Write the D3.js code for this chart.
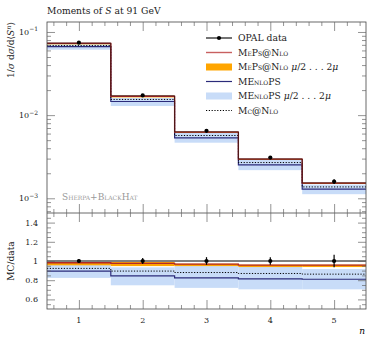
<!DOCTYPE html>
<html>
<head>
<meta charset="utf-8">
<script src="https://cdn.jsdelivr.net/npm/d3@7"></script>
<style>
  body { margin: 0; background: #fff; }
  svg { font-family: "DejaVu Serif", "Liberation Serif", serif; }
  .sc { font-variant: small-caps; }
</style>
</head>
<body>
<svg width="378" height="341"></svg>
<script>
// moments n = 1..5
const bins = [1, 2, 3, 4, 5]
const dataVal = [0.0743, 0.01725, 0.00647, 0.00309, 0.00159]
const dataErr = [0.0015, 0.0005, 0.00025, 0.00012, 0.0001]

// top panel MC predictions
const mepsVal = [0.0730, 0.01682, 0.00626, 0.00296, 0.00152]
const mepsLo = [0.0710, 0.01634, 0.00613, 0.00290, 0.00149]
const mepsHi = [0.0736, 0.01708, 0.00629, 0.00297, 0.00153]
const menlopsVal = [0.0665, 0.01458, 0.00533, 0.00252, 0.00129]
const menlopsLo = [0.0612, 0.01289, 0.00466, 0.00218, 0.00112]
const menlopsHi = [0.0712, 0.01611, 0.00613, 0.00290, 0.00146]
const mcnloVal = [0.0686, 0.01544, 0.00569, 0.00269, 0.00137]

// ratio panel MC/data
const rData = [1, 1, 1, 1, 1]
const rDataErr = [0.02, 0.03, 0.04, 0.04, 0.065]
const rMeps = [0.982, 0.975, 0.968, 0.958, 0.958]
const rMepsLo = [0.955, 0.947, 0.947, 0.937, 0.937]
const rMepsHi = [0.99, 0.99, 0.972, 0.962, 0.962]
const rMenlops = [0.895, 0.845, 0.824, 0.814, 0.81]
const rMenlopsLo = [0.824, 0.747, 0.72, 0.705, 0.705]
const rMenlopsHi = [0.958, 0.934, 0.947, 0.94, 0.916]
const rMcnlo = [0.923, 0.895, 0.88, 0.87, 0.863]

const yTopMajor = [1e-1, 1e-2, 1e-3]
const yTopLabels = ['−1', '−2', '−3']
const yRatMajor = [0.6, 0.8, 1, 1.2, 1.4]
const yRatLabels = ['0.6', '0.8', '1', '1.2', '1.4']

const svg = d3.select('svg')
const L = 47, R = 366, T = 22, M = 213, B = 309

const x = d3.scaleLinear().domain([0.5, 5.5]).range([L, R])
const yTop = d3.scaleLog().domain([Math.pow(10, -3.177), Math.pow(10, -0.88)]).range([M, T])
const yRat = d3.scaleLinear().domain([0.5, 1.5]).range([B, M])

const orange = '#ffa500', red = '#b02828', blue = '#2b2b7a', lightBlue = '#c8dcf8'

function bands(g, y, lo, hi, col) {
  g.selectAll(null).data(bins).enter().append('rect')
    .attr('x', d => x(d - 0.5))
    .attr('width', x(1.5) - x(0.5))
    .attr('y', (d, i) => y(hi[i]))
    .attr('height', (d, i) => y(lo[i]) - y(hi[i]))
    .attr('fill', col)
}

function steps(g, y, vals, col, w, dash) {
  const pts = []
  bins.forEach((d, i) => { pts.push([d - 0.5, vals[i]]); pts.push([d + 0.5, vals[i]]) })
  g.append('path')
    .attr('d', d3.line().x(p => x(p[0])).y(p => y(p[1]))(pts))
    .attr('fill', 'none')
    .attr('stroke', col)
    .attr('stroke-width', w)
    .attr('stroke-dasharray', dash || null)
}

function points(g, y, vals, errs) {
  g.selectAll(null).data(bins).enter().append('line')
    .attr('x1', d => x(d)).attr('x2', d => x(d))
    .attr('y1', (d, i) => y(vals[i] - errs[i]))
    .attr('y2', (d, i) => y(vals[i] + errs[i]))
    .attr('stroke', '#000').attr('stroke-width', 1.2)
  g.selectAll(null).data(bins).enter().append('circle')
    .attr('cx', d => x(d)).attr('cy', (d, i) => y(vals[i]))
    .attr('r', 2.1).attr('fill', '#000')
}

// top panel
const topG = svg.append('g')
bands(topG, yTop, menlopsLo, menlopsHi, lightBlue)
bands(topG, yTop, mepsLo, mepsHi, orange)
steps(topG, yTop, menlopsVal, blue, 1.2)
steps(topG, yTop, mcnloVal, '#000', 1, '1.2,1.6')
steps(topG, yTop, mepsVal, red, 1.3)
steps(topG, yTop, mepsHi, '#3a1212', 0.9)
points(topG, yTop, dataVal, dataErr)

// ratio panel
const ratG = svg.append('g')
bands(ratG, yRat, rMenlopsLo, rMenlopsHi, lightBlue)
bands(ratG, yRat, rMepsLo, rMepsHi, orange)
steps(ratG, yRat, rMenlops, blue, 1.2)
steps(ratG, yRat, rMcnlo, '#000', 1, '1.2,1.6')
steps(ratG, yRat, rMeps, red, 1.3)
steps(ratG, yRat, rData, '#000', 1.1)
points(ratG, yRat, rData, rDataErr)

// frames
const tickCol = '#666'
svg.append('rect').attr('x', L).attr('y', T).attr('width', R - L).attr('height', B - T)
  .attr('fill', 'none').attr('stroke', '#444').attr('stroke-width', 0.8)
svg.append('line').attr('x1', L).attr('x2', R).attr('y1', M).attr('y2', M)
  .attr('stroke', '#444').attr('stroke-width', 0.8)

function styleAxis(g) {
  g.select('.domain').remove()
  g.selectAll('line').attr('stroke', tickCol).attr('stroke-width', 0.7)
}

// x ticks: top frame points down, bottom frame points up, separator both ways
const xMinor = d3.range(6, 55, 2).map(v => v / 10).filter(v => Math.abs(v - Math.round(v)) > 1e-6)
const xAxes = [[T, d3.axisTop, -1], [M, d3.axisTop, 1], [M, d3.axisBottom, 1], [B, d3.axisBottom, -1]]
xAxes.forEach(([yy, ax, sign]) => {
  svg.append('g').attr('transform', `translate(0,${yy})`)
    .call(ax(x).tickValues(bins).tickSize(sign * 9).tickFormat('')).call(styleAxis)
  svg.append('g').attr('transform', `translate(0,${yy})`)
    .call(ax(x).tickValues(xMinor).tickSize(sign * 4).tickFormat('')).call(styleAxis)
})

// y ticks top (log)
const yTopMinor = []
;[-4, -3, -2, -1].forEach(e => { for (let k = 2; k <= 9; k++) yTopMinor.push(k * Math.pow(10, e)) })
const yTopMinorIn = yTopMinor.filter(v => v > yTop.domain()[0] && v < yTop.domain()[1])
;[[L, d3.axisLeft], [R, d3.axisRight]].forEach(([xx, ax]) => {
  svg.append('g').attr('transform', `translate(${xx},0)`)
    .call(ax(yTop).tickValues(yTopMajor).tickSize(-8).tickFormat('')).call(styleAxis)
  svg.append('g').attr('transform', `translate(${xx},0)`)
    .call(ax(yTop).tickValues(yTopMinorIn).tickSize(-4).tickFormat('')).call(styleAxis)
})

// y ticks ratio
const yRatMinor = d3.range(55, 150, 5).map(v => v / 100).filter(v => !yRatMajor.some(m => Math.abs(m - v) < 1e-6))
;[[L, d3.axisLeft], [R, d3.axisRight]].forEach(([xx, ax]) => {
  svg.append('g').attr('transform', `translate(${xx},0)`)
    .call(ax(yRat).tickValues(yRatMajor).tickSize(-8).tickFormat('')).call(styleAxis)
  svg.append('g').attr('transform', `translate(${xx},0)`)
    .call(ax(yRat).tickValues(yRatMinor).tickSize(-4).tickFormat('')).call(styleAxis)
})

// tick labels
yTopMajor.forEach((v, i) => {
  const t = svg.append('text').attr('x', 38).attr('y', yTop(v) + 3).attr('text-anchor', 'end')
    .attr('font-size', 8).attr('fill', '#222')
  t.append('tspan').text('10')
  t.append('tspan').attr('dy', -3.5).attr('font-size', 6).text(yTopLabels[i])
})
yRatMajor.forEach((v, i) => {
  svg.append('text').attr('x', 38).attr('y', yRat(v) + 3).attr('text-anchor', 'end')
    .attr('font-size', 8).attr('fill', '#222').text(yRatLabels[i])
})
bins.forEach(d => {
  svg.append('text').attr('x', x(d)).attr('y', 323).attr('text-anchor', 'middle')
    .attr('font-size', 8).attr('fill', '#222').text(d)
})
svg.append('text').attr('x', 365).attr('y', 334).attr('text-anchor', 'end')
  .attr('font-size', 9).attr('font-style', 'italic').text('n')

// title
const title = svg.append('text').attr('x', 47).attr('y', 14).attr('font-size', 9.2).attr('fill', '#222')
title.append('tspan').text('Moments of ')
title.append('tspan').attr('font-style', 'italic').text('S')
title.append('tspan').text(' at 91 GeV')

// axis titles
const yl = svg.append('text').attr('transform', 'translate(14,22) rotate(-90)')
  .attr('text-anchor', 'end').attr('font-size', 9).attr('fill', '#222')
yl.append('tspan').text('1/')
yl.append('tspan').attr('font-style', 'italic').text('σ')
yl.append('tspan').text(' d')
yl.append('tspan').attr('font-style', 'italic').text('σ')
yl.append('tspan').text('/d⟨')
yl.append('tspan').attr('font-style', 'italic').text('S')
yl.append('tspan').attr('font-style', 'italic').attr('dy', -3.5).attr('font-size', 6.5).text('n')
yl.append('tspan').attr('dy', 3.5).text('⟩')

svg.append('text').attr('transform', `translate(14,${yRat(1)}) rotate(-90)`)
  .attr('text-anchor', 'middle').attr('font-size', 9).attr('fill', '#222').text('MC/data')

// generator label
svg.append('text').attr('class', 'sc').attr('x', 62).attr('y', 200)
  .attr('font-size', 9).attr('fill', '#999').text('Sherpa+BlackHat')

// legend
const lx0 = 206, lx1 = 232, ltx = 238
const leg = svg.append('g')
const rows = [38, 52.5, 67, 81.5, 96, 110.5]
leg.append('line').attr('x1', lx0).attr('x2', lx1).attr('y1', rows[0]).attr('y2', rows[0]).attr('stroke', '#000').attr('stroke-width', 1.1)
leg.append('circle').attr('cx', (lx0 + lx1) / 2).attr('cy', rows[0]).attr('r', 2.1).attr('fill', '#000')
leg.append('line').attr('x1', lx0).attr('x2', lx1).attr('y1', rows[1]).attr('y2', rows[1]).attr('stroke', '#c86060').attr('stroke-width', 1.4)
leg.append('rect').attr('x', lx0).attr('y', rows[2] - 3.5).attr('width', lx1 - lx0).attr('height', 7).attr('fill', orange)
leg.append('line').attr('x1', lx0).attr('x2', lx1).attr('y1', rows[3]).attr('y2', rows[3]).attr('stroke', blue).attr('stroke-width', 1.2)
leg.append('rect').attr('x', lx0).attr('y', rows[4] - 3.5).attr('width', lx1 - lx0).attr('height', 7).attr('fill', lightBlue)
leg.append('line').attr('x1', lx0).attr('x2', lx1).attr('y1', rows[5]).attr('y2', rows[5]).attr('stroke', '#000').attr('stroke-width', 1).attr('stroke-dasharray', '1.2,1.6')

function legText(y, parts) {
  const t = leg.append('text').attr('x', ltx).attr('y', y + 3.3).attr('font-size', 9.2).attr('fill', '#222')
  parts.forEach(p => {
    const s = t.append('tspan').text(p[0])
    if (p[1] === 'sc') s.attr('class', 'sc')
    if (p[1] === 'i') s.attr('font-style', 'italic')
  })
}
legText(rows[0], [['OPAL data']])
legText(rows[1], [['MePs@Nlo', 'sc']])
legText(rows[2], [['MePs@Nlo', 'sc'], [' μ', 'i'], ['/2 . . . 2'], ['μ', 'i']])
legText(rows[3], [['MEnloPS', 'sc']])
legText(rows[4], [['MEnloPS', 'sc'], [' μ', 'i'], ['/2 . . . 2'], ['μ', 'i']])
legText(rows[5], [['Mc@Nlo', 'sc']])
</script>
</body>
</html>
